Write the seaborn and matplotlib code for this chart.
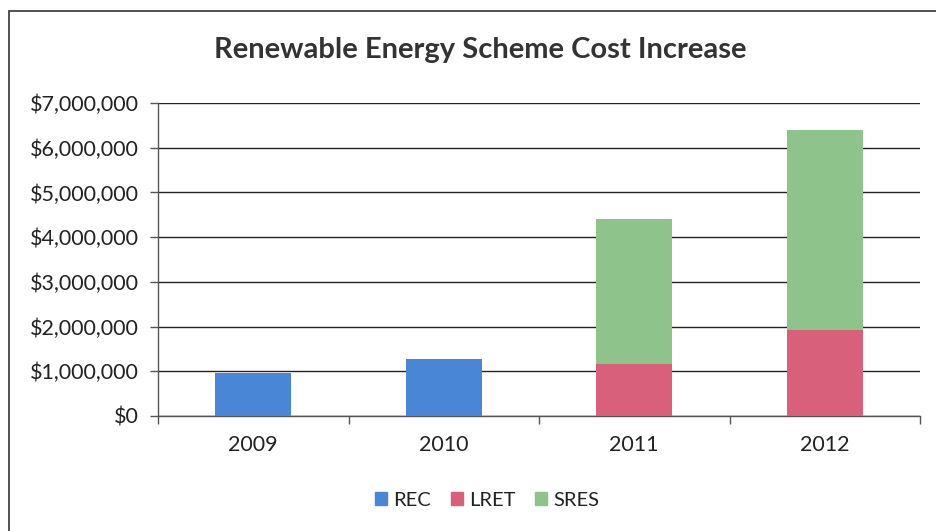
import matplotlib
matplotlib.use("Agg")
import matplotlib.pyplot as plt
import matplotlib.patches as mpatches
from matplotlib.ticker import FuncFormatter, FixedLocator
import seaborn as sns
import pandas as pd

years = ["2009", "2010", "2011", "2012"]
rec = [960000, 1275000, 0, 0]
lret = [0, 0, 1160000, 1920000]
sres = [0, 0, 3250000, 4480000]
series = ["REC", "LRET", "SRES"]
colors = {"REC": "#4a86d6", "LRET": "#d9607a", "SRES": "#8ec38b"}
yticks = [0, 1000000, 2000000, 3000000, 4000000, 5000000, 6000000, 7000000]

sns.set_theme(style="white")
plt.rcParams["font.family"] = ["Lato", "DejaVu Sans"]

df = pd.DataFrame({"year": years, "REC": rec, "LRET": lret, "SRES": sres})
df["c_rec"] = df["REC"]
df["c_lret"] = df["REC"] + df["LRET"]
df["c_sres"] = df["c_lret"] + df["SRES"]

fig = plt.figure(figsize=(9.36, 5.31), dpi=100)
ax = fig.add_axes([158 / 936, (531 - 416) / 531, (920 - 158) / 936, (416 - 103) / 531])

for col, name in [("c_sres", "SRES"), ("c_lret", "LRET"), ("c_rec", "REC")]:
    sns.barplot(data=df, x="year", y=col, color=colors[name], width=0.4,
                saturation=1, ax=ax, zorder=3, edgecolor="none", linewidth=0)

ax.set_ylim(0, 7000000)
ax.set_xlim(-0.5, 3.5)
ax.yaxis.set_major_locator(FixedLocator(yticks))
ax.yaxis.set_major_formatter(FuncFormatter(lambda v, p: "${:,.0f}".format(v)))
ax.grid(axis="y", color="#222222", linewidth=1.0, zorder=1)
ax.set_xlabel("")
ax.set_ylabel("")

for s in ["top", "right"]:
    ax.spines[s].set_visible(False)
for s in ["left", "bottom"]:
    ax.spines[s].set_color("#555555")
    ax.spines[s].set_linewidth(1.0)

ax.tick_params(axis="y", which="major", length=6, width=1, color="#555555",
               direction="out", left=True, labelsize=15.5, labelcolor="#222222", pad=8)
ax.tick_params(axis="x", which="major", length=0, labelsize=15.5, labelcolor="#222222", pad=14)
ax.xaxis.set_minor_locator(FixedLocator([-0.5, 0.5, 1.5, 2.5, 3.5]))
ax.tick_params(axis="x", which="minor", length=6, width=1, color="#555555",
               direction="out", bottom=True)

fig.text(480 / 936, 1 - 50 / 531, "Renewable Energy Scheme Cost Increase",
         ha="center", va="center", fontsize=21, fontweight="bold", color="#333333")

handles = [mpatches.Patch(color=colors[n], label=n) for n in series]
fig.legend(handles=handles, loc="center", bbox_to_anchor=(487 / 936, 1 - 500 / 531),
           ncol=3, frameon=False, fontsize=14.5, handlelength=0.6, handleheight=0.6,
           handletextpad=0.3, columnspacing=1.0, labelcolor="#222222")

border = mpatches.Rectangle((9 / 936, -0.1), 2, (1 - 11 / 531) + 0.1,
                            transform=fig.transFigure, fill=False,
                            edgecolor="#333333", linewidth=1.2)
fig.add_artist(border)

fig.savefig("out.png", dpi=100)
